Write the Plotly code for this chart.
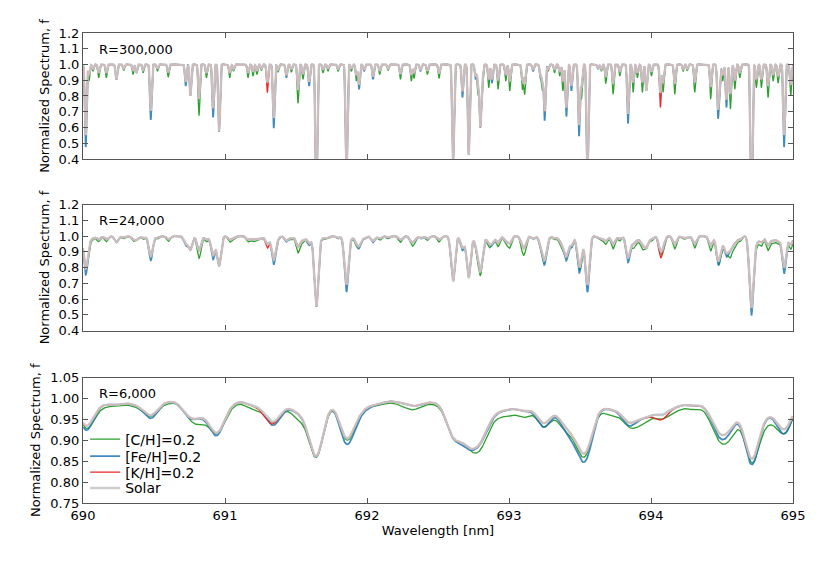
import numpy as np
import plotly.graph_objects as go

c_lines = [690.042, 690.070, 690.110, 690.164, 690.286, 690.352, 690.423, 690.524, 690.600,
           690.817, 690.869, 691.033, 691.060, 691.162, 691.197, 691.225, 691.256, 691.373,
           691.467, 691.514, 691.549, 691.690, 691.725, 691.796, 691.890, 691.925, 692.089,
           692.148, 692.235, 692.312, 692.331, 692.425, 692.507, 692.782, 692.812, 692.857,
           692.923, 692.977, 693.005, 693.094, 693.110, 693.235, 693.275, 693.320, 693.357,
           693.380, 693.510, 693.650, 693.681, 693.733, 693.780, 693.874, 693.904, 693.939,
           694.003, 694.085, 694.167, 694.226, 694.255, 694.308, 694.420, 694.484, 694.505,
           694.559, 694.590, 694.625, 694.742, 694.777, 694.824, 694.860, 694.895, 694.984]
c_core = [0.893, 0.956, 0.914, 0.914, 0.960, 0.935, 0.946, 0.956, 0.918,
          0.671, 0.914, 0.914, 0.956, 0.914, 0.925, 0.935, 0.960, 0.950,
          0.950, 0.750, 0.904, 0.946, 0.956, 0.956, 0.956, 0.893, 0.935,
          0.960, 0.904, 0.893, 0.910, 0.935, 0.910, 0.808, 0.830, 0.850,
          0.840, 0.893, 0.830, 0.840, 0.808, 0.840, 0.956, 0.946, 0.925,
          0.830, 0.777, 0.956, 0.876, 0.808, 0.925, 0.820, 0.914, 0.820,
          0.925, 0.820, 0.808, 0.956, 0.960, 0.820, 0.777, 0.808, 0.893,
          0.713, 0.840, 0.914, 0.850, 0.850, 0.787, 0.893, 0.880, 0.800]

fe_lines = [690.019, 690.477, 690.723, 690.916, 691.343, 691.432, 691.592, 691.855, 691.944,
            691.979, 692.042, 692.376, 692.672, 692.765, 692.880, 693.169, 693.221, 693.251,
            693.404, 693.439, 693.493, 693.552, 693.627, 693.838, 694.472, 694.531, 694.707,
            694.937]
fe_core = [0.470, 0.643, 0.861, 0.660, 0.590, 0.914, 0.861, 0.260, 0.840,
           0.956, 0.904, 0.956, 0.787, 0.904, 0.880, 0.956, 0.914, 0.640,
           0.665, 0.830, 0.540, 0.260, 0.970, 0.620, 0.660, 0.724, 0.070,
           0.470]

k_lines = [691.298, 694.066]
k_core = [0.819, 0.724]

other_lines = [690.235, 690.376, 690.756, 690.958, 691.643, 692.606, 692.716,
               692.798, 693.967]
other_core = [0.904, 0.946, 0.798, 0.570, 0.130, 0.380, 0.420,
              0.600, 0.830]

resolutions = [300000, 24000, 6000]
res_labels = ['R=300,000', 'R=24,000', 'R=6,000']
boost = {'C': 1.6, 'Fe': 1.25, 'K': 1.6}

wl = np.arange(689.8, 695.2, 0.0005)
sig = 0.0055


def tau(lines, core, scale):
    t = np.zeros_like(wl)
    for l, c in zip(lines, core):
        t += -np.log(c) / scale * np.exp(-0.5 * ((wl - l) / sig) ** 2)
    return t


t_c = tau(c_lines, c_core, boost['C'])
t_fe = tau(fe_lines, fe_core, boost['Fe'])
t_k = tau(k_lines, k_core, boost['K'])
t_o = tau(other_lines, other_core, 1.0)

models = {
    '[C/H]=0.2': np.exp(-(boost['C'] * t_c + t_fe + t_k + t_o)),
    '[Fe/H]=0.2': np.exp(-(t_c + boost['Fe'] * t_fe + t_k + t_o)),
    '[K/H]=0.2': np.exp(-(t_c + t_fe + boost['K'] * t_k + t_o)),
    'Solar': np.exp(-(t_c + t_fe + t_k + t_o)),
}
styles = {
    '[C/H]=0.2': dict(color='#2ca02c', width=1.3),
    '[Fe/H]=0.2': dict(color='rgba(31,119,180,0.85)', width=1.8),
    '[K/H]=0.2': dict(color='#e8262a', width=1.3),
    'Solar': dict(color='rgba(205,200,200,0.92)', width=2.4),
}
legend_y = [0.135, 0.099, 0.065, 0.031]


def smear(flux, R):
    s = 692.5 / R / 2.3548 / 0.0005
    half = int(5 * s) + 1
    k = np.exp(-0.5 * (np.arange(-half, half + 1) / s) ** 2)
    k /= k.sum()
    return np.convolve(np.pad(flux, half, mode='edge'), k, mode='valid')


keep = (wl >= 690.0) & (wl <= 695.0)
fig = go.Figure()
for i, R in enumerate(resolutions):
    step = [1, 2, 8][i]
    for j, (name, flux) in enumerate(models.items()):
        y = smear(flux, R)[keep][::step]
        fig.add_trace(go.Scatter(
            x=wl[keep][::step], y=y, mode='lines', name=name,
            line=styles[name], showlegend=(i == 2),
            legend='legend' if j == 0 else 'legend%d' % (j + 1),
            xaxis='x' if i == 0 else 'x%d' % (i + 1),
            yaxis='y' if i == 0 else 'y%d' % (i + 1)))

font = dict(family='DejaVu Sans', size=13, color='black')
doms = [[0.732, 1.0], [0.367, 0.635], [0.0, 0.267]]
ax = dict(showgrid=False, zeroline=False, ticks='inside', ticklen=5, mirror='ticks',
          showline=True, linecolor='#555555', linewidth=1.2, tickcolor='#555555',
          tickfont=font, automargin=False)
# page body adds 8px on the left and top
layout = dict(width=830, height=566, plot_bgcolor='white', paper_bgcolor='white',
              margin=dict(l=75, r=45, t=25, b=71), font=font, annotations=[])
for j, ly in enumerate(legend_y):
    key = 'legend' if j == 0 else 'legend%d' % (j + 1)
    layout[key] = dict(x=0.003, y=ly, xanchor='left', yanchor='middle',
                       bgcolor='rgba(0,0,0,0)', font=dict(font, size=14), borderwidth=0)
for i in range(3):
    sx = '' if i == 0 else str(i + 1)
    xa = dict(ax, domain=[0, 1], range=[690, 695], dtick=1, anchor='y' + sx,
              showticklabels=(i == 2))
    if i == 2:
        xa['title'] = dict(text='Wavelength [nm]', font=font, standoff=4)
    if i < 2:
        ya = dict(ax, domain=doms[i], range=[0.4, 1.2], dtick=0.1, tickformat='.1f')
    else:
        ya = dict(ax, domain=doms[i], range=[0.75, 1.05], dtick=0.05, tickformat='.2f')
    ya['anchor'] = 'x' + sx
    ya['title'] = dict(text='Normalized Spectrum, f', font=font, standoff=6)
    layout['xaxis' + sx] = xa
    layout['yaxis' + sx] = ya
    layout['annotations'].append(dict(
        text=res_labels[i], x=0.02, y=0.87, xref='x%s domain' % sx, yref='y%s domain' % sx,
        xanchor='left', yanchor='middle', showarrow=False, font=font))

fig.update_layout(**layout)
fig.write_html('out.html')
